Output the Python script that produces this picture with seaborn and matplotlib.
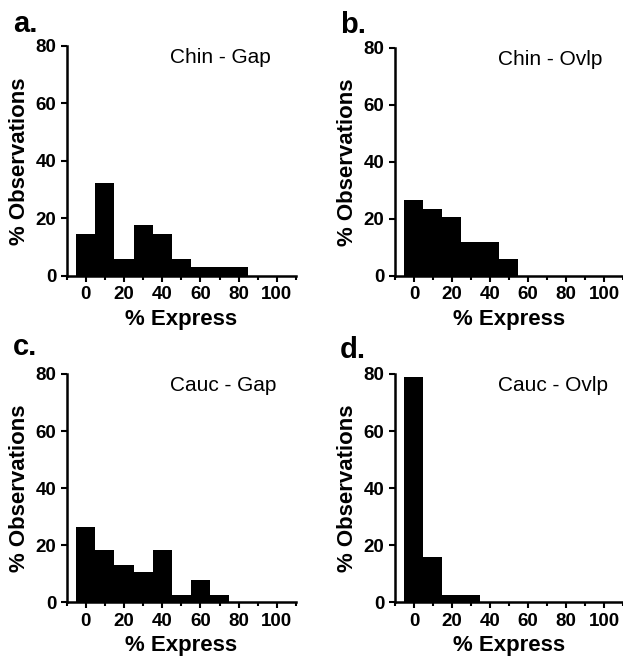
import pandas as pd
import seaborn as sns
import matplotlib.pyplot as plt
from matplotlib.ticker import MultipleLocator

# bin centres (% Express) and % of observations in each bin
bin_centers = [0, 10, 20, 30, 40, 50, 60, 70, 80, 90, 100]
chin_gap = [14.7, 32.4, 5.9, 17.6, 14.7, 5.9, 2.9, 2.9, 2.9, 0, 0]
chin_ovlp = [26.5, 23.5, 20.6, 11.8, 11.8, 5.9, 0, 0, 0, 0, 0]
cauc_gap = [26.3, 18.4, 13.2, 10.5, 18.4, 2.6, 7.9, 2.6, 0, 0, 0]
cauc_ovlp = [78.9, 15.8, 2.6, 2.6, 0, 0, 0, 0, 0, 0, 0]

panel_letters = ["a.", "b.", "c.", "d."]
panel_titles = ["Chin - Gap", "Chin - Ovlp", "Cauc - Gap", "Cauc - Ovlp"]
panel_data = [chin_gap, chin_ovlp, cauc_gap, cauc_ovlp]

sns.set_style("ticks")
plt.rcParams["font.family"] = ["Liberation Sans", "DejaVu Sans"]
plt.rcParams["font.weight"] = "bold"
plt.rcParams["text.color"] = "black"
plt.rcParams["axes.labelcolor"] = "black"
plt.rcParams["xtick.color"] = "black"
plt.rcParams["ytick.color"] = "black"

fig = plt.figure(figsize=(6.23, 6.66), dpi=100)

# axes boxes in figure fractions [left, bottom, width, height]
boxes = [
    [0.107, 0.586, 0.368, 0.345],
    [0.634, 0.586, 0.366, 0.342],
    [0.107, 0.0956, 0.368, 0.343],
    [0.634, 0.0956, 0.366, 0.343],
]
letter_pos = [(0.021, 0.952), (0.546, 0.950), (0.021, 0.467), (0.546, 0.462)]

for box, letter, lpos, title, vals in zip(boxes, panel_letters, letter_pos, panel_titles, panel_data):
    ax = fig.add_axes(box)
    df = pd.DataFrame({"express": bin_centers, "pct": vals})
    sns.histplot(data=df, x="express", weights="pct", binwidth=10, binrange=(-5, 105),
                 color="black", alpha=1, linewidth=0, ax=ax)
    ax.set_xlim(-10, 110)
    ax.set_ylim(0, 80)
    ax.xaxis.set_major_locator(MultipleLocator(20))
    ax.xaxis.set_minor_locator(MultipleLocator(10))
    ax.yaxis.set_major_locator(MultipleLocator(20))
    ax.tick_params(axis="both", which="major", labelsize=13.5, length=4, width=1.5,
                   color="black", labelcolor="black")
    ax.tick_params(axis="x", which="minor", length=3, width=1.5, color="black")
    for lab in ax.get_xticklabels() + ax.get_yticklabels():
        lab.set_fontweight("bold")
    for side in ["left", "bottom"]:
        ax.spines[side].set_linewidth(1.8)
        ax.spines[side].set_color("black")
    sns.despine(ax=ax)
    ax.set_xlabel("% Express", fontsize=16, fontweight="bold", color="black", labelpad=4)
    ax.set_ylabel("% Observations", fontsize=16, fontweight="bold", color="black", labelpad=4)
    ax.text(44, 76, title, fontsize=15, fontweight="normal", color="black", ha="left", va="center")
    fig.text(lpos[0], lpos[1], letter, fontsize=21, fontweight="bold", color="black",
             ha="left", va="baseline")

plt.savefig("out.png", dpi=100)
